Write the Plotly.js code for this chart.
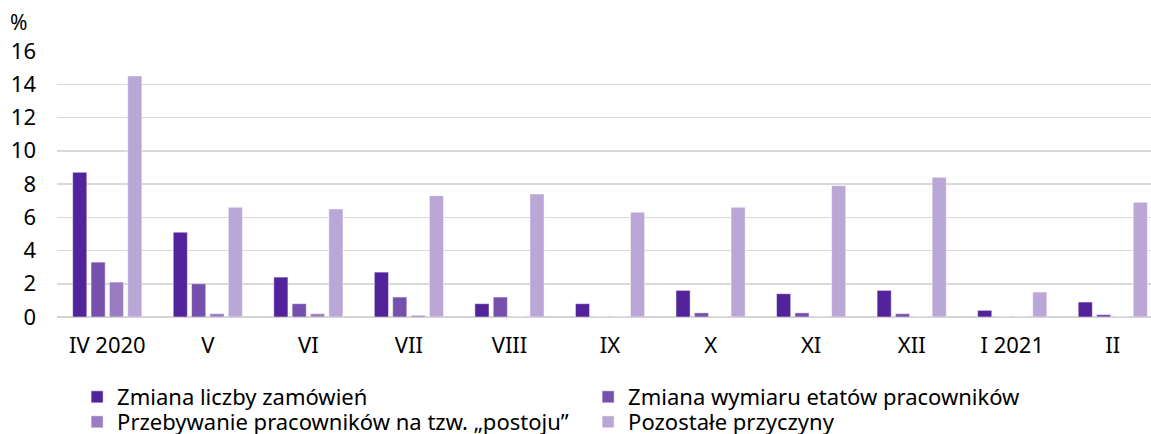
<!DOCTYPE html>
<html><head><meta charset="utf-8">
<script src="https://cdn.plot.ly/plotly-3.0.1.min.js"></script>
<style>html,body{margin:0;padding:0;background:#fff}#chart{width:1151px;height:434px}</style>
</head><body><div id="chart"></div>
<script>
const categories = ["IV 2020","V","VI","VII","VIII","IX","X","XI","XII","I 2021","II"];
const seriesNames = ["Zmiana liczby zamówień","Zmiana wymiaru etatów pracowników","Przebywanie pracowników na tzw. „postoju”","Pozostałe przyczyny"];
const zmianaZamowien = [8.7,5.1,2.4,2.7,0.8,0.8,1.6,1.4,1.6,0.4,0.9];
const zmianaEtatow   = [3.3,2.0,0.8,1.2,1.2,0,0.25,0.25,0.2,0,0.15];
const postoj         = [2.1,0.2,0.2,0.1,0,0,0,0,0,0,0];
const pozostale      = [14.5,6.6,6.5,7.3,7.4,6.3,6.6,7.9,8.4,1.5,6.9];
const colors = ["#52239a","#7650ad","#9a7dc1","#baa7d6"];
const vals = [zmianaZamowien,zmianaEtatow,postoj,pozostale];
const legendIds = ["legend","legend","legend2","legend2"];
const traces = vals.map((v,i)=>({type:"bar",name:seriesNames[i],x:categories,y:v,legend:legendIds[i],
  marker:{color:colors[i],line:{color:"rgba(255,255,255,0.6)",width:0.8}},hoverinfo:"x+y"}));
const legendBase = {orientation:"h",xref:"container",yref:"container",x:0.067,xanchor:"left",yanchor:"top",
    entrywidth:466,entrywidthmode:"pixels",traceorder:"normal",
    font:{size:22,family:"Noto Sans, sans-serif",color:"#000"},itemwidth:30,tracegroupgap:0,bgcolor:"rgba(0,0,0,0)"};
const layout = {
  width:1151,height:434,
  margin:{l:57,r:0,t:51,b:117},
  paper_bgcolor:"#fff",plot_bgcolor:"#fff",
  barmode:"group",bargap:0.27,bargroupgap:0.23,
  font:{family:"Noto Sans, Open Sans, sans-serif",color:"#000",size:22},
  xaxis:{type:"category",range:[-0.5,10.38],showgrid:false,ticks:"",showline:false,
    tickfont:{size:22},ticklabelstandoff:13,automargin:false},
  yaxis:{range:[0,16],dtick:2,showgrid:true,gridcolor:"#d9d9d9",gridwidth:1.5,
    zeroline:true,zerolinecolor:"#d4d4d4",zerolinewidth:2.5,ticks:"",showline:false,
    tickfont:{size:22},ticklabelstandoff:20,automargin:false},
  showlegend:true,
  legend:Object.assign({},legendBase,{y:0.1336}),
  legend2:Object.assign({},legendBase,{y:0.076}),
  annotations:[{text:"%",xref:"paper",yref:"paper",x:-0.045,y:1.05,xanchor:"left",yanchor:"bottom",showarrow:false,font:{size:21}}]
};
Plotly.newPlot("chart",traces,layout,{displayModeBar:false,staticPlot:true});
</script></body></html>
